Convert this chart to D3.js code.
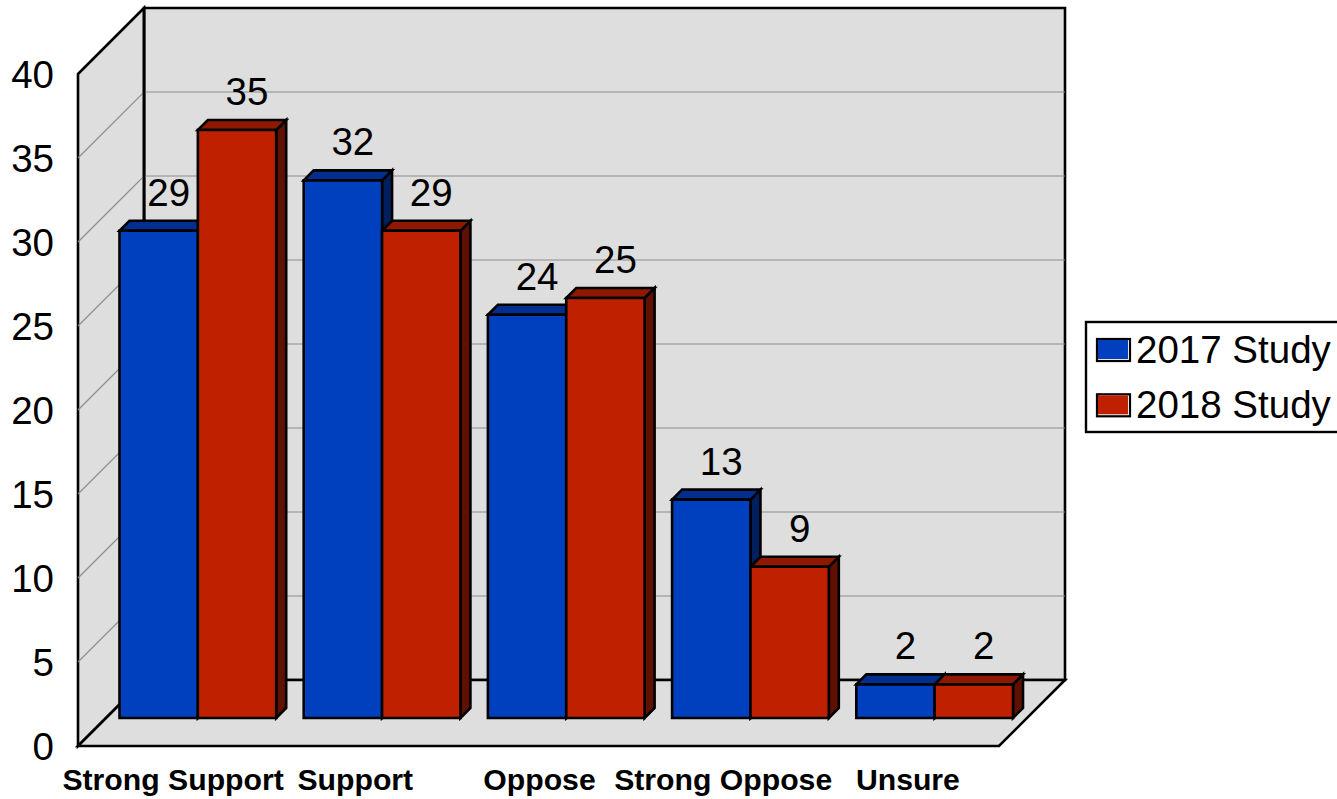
<!DOCTYPE html>
<html><head><meta charset="utf-8">
<script src="https://cdnjs.cloudflare.com/ajax/libs/d3/7.8.5/d3.min.js"></script>
<style>html,body{margin:0;padding:0;background:#fff;overflow:hidden}svg{display:block}text{font-family:"Liberation Sans",Arial,sans-serif;fill:#000}</style>
</head><body><svg id="c" width="1337" height="799"></svg>
<script>
const categories = ["Strong Support","Support","Oppose","Strong Oppose","Unsure"];
const seriesNames = ["2017 Study","2018 Study"];
const values2017 = [29,32,24,13,2];
const values2018 = [35,29,25,9,2];
const yTicks = [0,5,10,15,20,25,30,35,40];
const faceColors = ["#0040BF","#BF2000"];
const topColors = ["#002F8F","#8F1800"];
const sideColors = ["#001F5F","#5F1000"];

const svg = d3.select("#c");
const L=78,R=999,B=746,T=74,D=66,barD=28,barSide=10;
const y = d3.scaleLinear().domain([0,40]).range([B,T]);
const x = d3.scaleBand().domain(categories).range([L,R]);
const inner = d3.scaleBand().domain([0,1]).range([13.5,x.bandwidth()-14]);
const pts = a=>a.map(p=>p.join(",")).join(" ");

const walls=svg.append("g");
const poly=(g,p,f,s=2.6)=>g.append("polygon").attr("points",pts(p)).attr("fill",f).attr("stroke","#000").attr("stroke-width",s).attr("stroke-linejoin","miter");
poly(walls,[[L+D,y(40)-D],[R+D,y(40)-D],[R+D,B-D],[L+D,B-D]],"#DEDEDE");
poly(walls,[[L,y(40)],[L+D,y(40)-D],[L+D,B-D],[L,B]],"#DEDEDE");
poly(walls,[[L,B],[R,B],[R+D,B-D],[L+D,B-D]],"#DEDEDE");
yTicks.filter(t=>t>0&&t<40).forEach(t=>{
  walls.append("polyline").attr("points",pts([[L,y(t)],[L+D,y(t)-D],[R+D,y(t)-D]]))
   .attr("fill","none").attr("stroke","#8c8c8c").attr("stroke-width",1.2);
});
walls.append("line").attr("x1",L+D).attr("x2",L+D).attr("y1",y(40)-D).attr("y2",B-D).attr("stroke","#000").attr("stroke-width",2.6);

svg.append("g").selectAll("text").data(yTicks).join("text")
  .attr("x",54).attr("y",d=>y(d)+14).attr("text-anchor","end").attr("font-size",38.5).text(d=>d);

const series=[values2017,values2018];
categories.forEach((c,i)=>{
  const g=svg.append("g");
  [0,1].forEach(s=>{
    const v=series[s][i];
    const x0=x(c)+barD+inner(s), x1=x0+inner.bandwidth();
    const yb=y(0)-barD, yt=y(v)-barD;
    poly(g,[[x1,yb],[x1,yt],[x1+barSide,yt-barSide],[x1+barSide,yb-barSide]],sideColors[s]);
    poly(g,[[x0,yt],[x1,yt],[x1+barSide,yt-barSide],[x0+barSide,yt-barSide]],topColors[s]);
  });
  [0,1].forEach(s=>{
    const v=series[s][i];
    const x0=x(c)+barD+inner(s), x1=x0+inner.bandwidth();
    const yb=y(0)-barD, yt=y(v)-barD;
    poly(g,[[x0,yb],[x1,yb],[x1,yt],[x0,yt]],faceColors[s]);
  });
  [0,1].forEach(s=>{
    const v=series[s][i];
    const cx=x(c)+barD+inner(s)+inner.bandwidth()/2+barSide;
    svg.append("text").attr("x",cx).attr("y",y(v)-barD-barSide-15)
      .attr("text-anchor","middle").attr("font-size",38.5).text(v);
  });
});

svg.append("g").selectAll("text").data(categories).join("text")
  .attr("x",d=>x(d)+x.bandwidth()/2+(d==="Strong Support"?3:d==="Strong Oppose"?0.5:1)).attr("y",790).attr("text-anchor","middle")
  .attr("font-size",30.2).attr("font-weight","bold").text(d=>d);

const lg=svg.append("g");
lg.append("rect").attr("x",1086).attr("y",322).attr("width",260).attr("height",110).attr("fill","#fff").attr("stroke","#000").attr("stroke-width",2.4);
seriesNames.forEach((n,i)=>{
  const yy=339+i*55.3;
  lg.append("rect").attr("x",1097).attr("y",yy).attr("width",33).attr("height",22).attr("fill","#fff").attr("stroke","#000").attr("stroke-width",2.2);
  lg.append("rect").attr("x",1098).attr("y",yy+1).attr("width",30).attr("height",19).attr("fill",faceColors[i]);
  lg.append("text").attr("x",1136).attr("y",yy+24).attr("font-size",38.5).text(n);
});
</script></body></html>
